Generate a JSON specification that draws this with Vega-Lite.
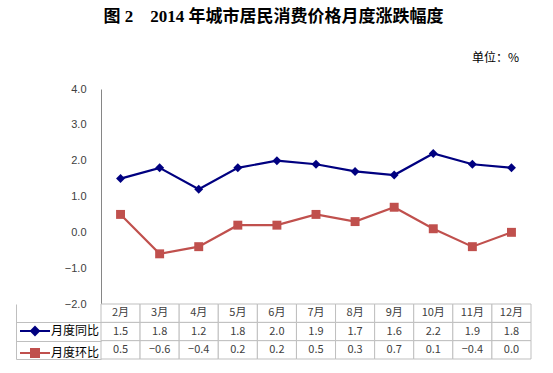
{
  "$schema": "https://vega.github.io/schema/vega-lite/v6.json",
  "padding": {"left": 15, "top": 8, "right": 20, "bottom": 10},
  "title": {"text": "图 2　2014 年城市居民消费价格月度涨跌幅度", "font": "Liberation Serif, Noto Sans CJK SC", "fontSize": 17, "fontWeight": "bold", "color": "#000", "anchor": "middle", "offset": 26},
  "data": {"values": [
    {"month": "2月", "series": "月度同比", "value": 1.5},
    {"month": "3月", "series": "月度同比", "value": 1.8},
    {"month": "4月", "series": "月度同比", "value": 1.2},
    {"month": "5月", "series": "月度同比", "value": 1.8},
    {"month": "6月", "series": "月度同比", "value": 2.0},
    {"month": "7月", "series": "月度同比", "value": 1.9},
    {"month": "8月", "series": "月度同比", "value": 1.7},
    {"month": "9月", "series": "月度同比", "value": 1.6},
    {"month": "10月", "series": "月度同比", "value": 2.2},
    {"month": "11月", "series": "月度同比", "value": 1.9},
    {"month": "12月", "series": "月度同比", "value": 1.8},
    {"month": "2月", "series": "月度环比", "value": 0.5},
    {"month": "3月", "series": "月度环比", "value": -0.6},
    {"month": "4月", "series": "月度环比", "value": -0.4},
    {"month": "5月", "series": "月度环比", "value": 0.2},
    {"month": "6月", "series": "月度环比", "value": 0.2},
    {"month": "7月", "series": "月度环比", "value": 0.5},
    {"month": "8月", "series": "月度环比", "value": 0.3},
    {"month": "9月", "series": "月度环比", "value": 0.7},
    {"month": "10月", "series": "月度环比", "value": 0.1},
    {"month": "11月", "series": "月度环比", "value": -0.4},
    {"month": "12月", "series": "月度环比", "value": 0.0}
  ]},
  "spacing": 0,
  "bounds": "flush",
  "vconcat": [
    {
      "width": 430,
      "height": 215,
      "title": {"text": "单位：%", "anchor": "end", "fontSize": 12, "fontWeight": "normal", "font": "Noto Sans CJK SC", "color": "#000", "offset": 18, "dx": -12},
      "encoding": {
        "x": {"field": "month", "type": "ordinal", "sort": ["2月","3月","4月","5月","6月","7月","8月","9月","10月","11月","12月"], "scale": {"type": "point", "padding": 0.5}, "axis": null},
        "y": {"field": "value", "type": "quantitative", "scale": {"domain": [-2, 4], "nice": false, "zero": false},
              "axis": {"values": [-2,-1,0,1,2,3,4], "format": ".1f", "title": null, "ticks": false, "grid": false, "domainColor": "#868686", "labelPadding": 15, "labelFont": "Liberation Sans", "labelFontSize": 11, "labelColor": "#404040"}},
        "color": {"field": "series", "type": "nominal", "scale": {"domain": ["月度同比","月度环比"], "range": ["#000080","#C0504D"]}, "legend": null}
      },
      "layer": [
        {"mark": {"type": "line", "strokeWidth": 2.2}},
        {"mark": {"type": "point", "filled": true, "opacity": 1, "size": 80},
         "encoding": {"shape": {"field": "series", "type": "nominal", "scale": {"domain": ["月度同比","月度环比"], "range": ["diamond","square"]}, "legend": null}}}
      ]
    },
    {
      "width": 430,
      "height": 55,
      "encoding": {
        "x": {"field": "month", "type": "ordinal", "sort": ["2月","3月","4月","5月","6月","7月","8月","9月","10月","11月","12月"], "scale": {"type": "band", "paddingInner": 0, "paddingOuter": 0}, "axis": null}
      },
      "layer": [
        {"mark": {"type": "rect", "fill": "#fff", "stroke": "#bfbfbf", "strokeWidth": 1},
         "encoding": {"y": {"field": "series", "type": "nominal", "scale": {"domain": ["header","月度同比","月度环比"], "paddingInner": 0, "paddingOuter": 0},
           "axis": {"title": null, "labels": false, "domain": true, "domainColor": "#bfbfbf", "offset": 85, "ticks": true, "tickSize": -85, "tickBand": "extent",
                    "tickColor": {"condition": {"test": "datum.extra", "value": "transparent"}, "value": "#bfbfbf"}, "grid": false}}}},
        {"transform": [{"filter": "datum.series === '月度同比'"}],
         "mark": {"type": "rect", "fill": "#fff", "stroke": "#bfbfbf", "strokeWidth": 1},
         "encoding": {"y": {"datum": "header", "type": "nominal"}}},
        {"transform": [{"filter": "datum.series === '月度同比'"}],
         "mark": {"type": "text", "font": "Noto Sans CJK SC", "fontSize": 11, "color": "#404040"},
         "encoding": {"y": {"datum": "header", "type": "nominal"}, "text": {"field": "month"}}},
        {"mark": {"type": "text", "font": "Noto Sans CJK SC", "fontSize": 11, "color": "#404040"},
         "encoding": {"y": {"field": "series", "type": "nominal"}, "text": {"field": "value", "type": "quantitative", "format": ".1f"}}},
        {"mark": {"type": "point", "opacity": 0},
         "encoding": {
           "y": {"field": "series", "type": "nominal"},
           "fill": {"field": "series", "type": "nominal", "scale": {"domain": ["月度同比","月度环比"], "range": ["#000080","#C0504D"]}},
           "stroke": {"field": "series", "type": "nominal", "scale": {"domain": ["月度同比","月度环比"], "range": ["#000080","#C0504D"]}},
           "shape": {"field": "series", "type": "nominal",
             "scale": {"domain": ["月度同比","月度环比"], "range": ["M-3,0H3M0,-0.8L0.8,0L0,0.8L-0.8,0Z", "M-3,0H3M-0.8,-0.8H0.8V0.8H-0.8Z"]},
             "legend": {"orient": "none", "legendX": -72, "legendY": 21, "title": null, "symbolSize": 100, "symbolStrokeWidth": 2, "symbolOpacity": 1, "labelFont": "Noto Sans CJK SC", "labelFontSize": 12, "labelColor": "#000", "labelOffset": 10, "rowPadding": 6, "padding": 0}}
         }}
      ]
    }
  ],
  "resolve": {
    "scale": {"color": "independent", "shape": "independent", "fill": "independent", "stroke": "independent"},
    "legend": {"color": "independent", "shape": "independent", "fill": "independent", "stroke": "independent"}
  },
  "config": {"view": {"stroke": null}}
}
